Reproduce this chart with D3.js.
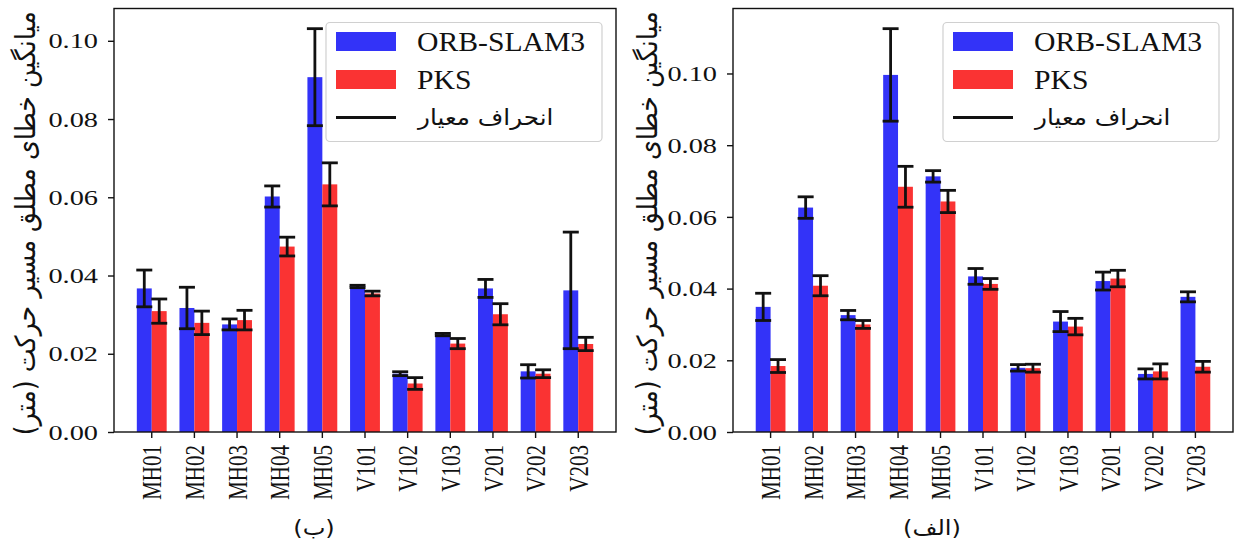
<!DOCTYPE html>
<html>
<head>
<meta charset="utf-8">
<script src="https://cdn.jsdelivr.net/npm/d3@7/dist/d3.min.js"></script>
<style>
  html, body { margin: 0; padding: 0; background: #fff; }
  svg { display: block; }
</style>
</head>
<body>
<svg id="chart" width="1234" height="546"></svg>
<script>
// EuRoC sequences
const categories = ["MH01", "MH02", "MH03", "MH04", "MH05", "V101", "V102", "V103", "V201", "V202", "V203"];

// Panel (ب): mean absolute trajectory error (m) and its standard deviation
const orbB    = [0.0367, 0.0317, 0.0275, 0.0602, 0.0907, 0.0372, 0.0149, 0.0249, 0.0367, 0.0155, 0.0362];
const orbBStd = [0.0047, 0.0053, 0.0014, 0.0027, 0.0124, 0.0003, 0.0005, 0.0003, 0.0023, 0.0017, 0.0149];
const pksB    = [0.0309, 0.0279, 0.0286, 0.0474, 0.0633, 0.0354, 0.0124, 0.0226, 0.0301, 0.0149, 0.0225];
const pksBStd = [0.0031, 0.0030, 0.0025, 0.0024, 0.0055, 0.0006, 0.0015, 0.0013, 0.0027, 0.0010, 0.0017];

// Panel (الف)
const orbA    = [0.0349, 0.0626, 0.0326, 0.0996, 0.0713, 0.0434, 0.0179, 0.0308, 0.0421, 0.0162, 0.0377];
const orbAStd = [0.0038, 0.0030, 0.0013, 0.0129, 0.0016, 0.0022, 0.0009, 0.0028, 0.0025, 0.0014, 0.0014];
const pksA    = [0.0184, 0.0408, 0.0300, 0.0684, 0.0643, 0.0413, 0.0178, 0.0294, 0.0428, 0.0169, 0.0182];
const pksAStd = [0.0018, 0.0028, 0.0011, 0.0057, 0.0031, 0.0015, 0.0011, 0.0023, 0.0023, 0.0021, 0.0015];

const yTicks = [0, 0.02, 0.04, 0.06, 0.08, 0.10];
const seriesNames = ["ORB-SLAM3", "PKS"];
const stdLabel = "انحراف معیار";
const yLabel = "میانگین خطای مطلق مسیر حرکت (متر)";
const captions = ["(ب)", "(الف)"];

const RLM = "\u200F";
const BLUE = "rgb(51,51,248)";
const RED = "rgb(250,51,51)";
const INK = "#111";
const SERIF = "'Liberation Serif', 'Times New Roman', serif";
const ARABIC = "'DejaVu Sans', sans-serif";
const WIDE = 1.35;   // the figure's lettering is set wide

const svg = d3.select("#chart");

const panels = [
  { left: 114, right: 616, caption: captions[0], orb: orbB, orbStd: orbBStd, pks: pksB, pksStd: pksBStd, labelX: 25 },
  { left: 733, right: 1233, caption: captions[1], orb: orbA, orbStd: orbAStd, pks: pksA, pksStd: pksAStd, labelX: 647 }
];
const plotTop = 8.5, plotBottom = 432;

panels.forEach(p => {
  const g = svg.append("g");

  const x = d3.scaleBand()
    .domain(categories)
    .range([p.left, p.right])
    .paddingInner(0)
    .paddingOuter(0.385);
  const step = x.step();
  const bw = step * 0.35;

  const yMax = d3.max([
    d3.max(p.orb, (v, i) => v + p.orbStd[i]),
    d3.max(p.pks, (v, i) => v + p.pksStd[i])
  ]) * 1.05;
  const y = d3.scaleLinear().domain([0, yMax]).range([plotBottom, plotTop]);

  const series = [
    { vals: p.orb, std: p.orbStd, color: BLUE, off: -bw },
    { vals: p.pks, std: p.pksStd, color: RED, off: 0 }
  ];

  series.forEach(s => {
    g.append("g").selectAll("rect")
      .data(categories)
      .join("rect")
      .attr("x", (c) => x(c) + step / 2 + s.off)
      .attr("width", bw)
      .attr("y", (c, i) => y(s.vals[i]))
      .attr("height", (c, i) => y(0) - y(s.vals[i]))
      .attr("fill", s.color);
  });

  // error bars
  series.forEach(s => {
    const eg = g.append("g").attr("stroke", INK).attr("stroke-width", 2.8).attr("fill", "none");
    categories.forEach((c, i) => {
      const cx = x(c) + step / 2 + s.off + bw / 2;
      const hi = y(s.vals[i] + s.std[i]);
      const lo = y(s.vals[i] - s.std[i]);
      const cap = 8;
      eg.append("line").attr("x1", cx).attr("x2", cx).attr("y1", hi).attr("y2", lo);
      eg.append("line").attr("x1", cx - cap).attr("x2", cx + cap).attr("y1", hi).attr("y2", hi);
      eg.append("line").attr("x1", cx - cap).attr("x2", cx + cap).attr("y1", lo).attr("y2", lo);
    });
  });

  // axes
  const yAxis = g.append("g")
    .attr("transform", `translate(${p.left},0)`)
    .call(d3.axisLeft(y).tickValues(yTicks).tickFormat(d3.format(".2f")).tickSize(6));
  const xAxis = g.append("g")
    .attr("transform", `translate(0,${plotBottom})`)
    .call(d3.axisBottom(x).tickSize(6));

  [yAxis, xAxis].forEach(a => {
    a.select(".domain").remove();
    a.selectAll(".tick line").attr("stroke", INK).attr("stroke-width", 1.4);
    a.selectAll(".tick text").attr("fill", INK).style("font-family", SERIF).style("font-size", "21px");
  });
  yAxis.selectAll(".tick text")
    .attr("x", 0)
    .attr("dy", "0.34em")
    .attr("transform", `translate(-16,0) scale(${WIDE},1)`);
  xAxis.selectAll(".tick text")
    .attr("x", 0).attr("y", 0)
    .attr("text-anchor", "end")
    .attr("dy", "0.34em")
    .attr("transform", `translate(0,13) scale(${WIDE},1) rotate(-90)`);

  // frame
  g.append("rect")
    .attr("x", p.left).attr("y", plotTop)
    .attr("width", p.right - p.left).attr("height", plotBottom - plotTop)
    .attr("fill", "none").attr("stroke", INK).attr("stroke-width", 1.4);

  // y label
  const yl = g.append("text")
    .attr("transform", `translate(${p.labelX},${(plotTop + plotBottom) / 2 + 3}) scale(1.1,1) rotate(-90)`)
    .attr("text-anchor", "middle")
    .attr("dy", "0.35em")
    .style("font-family", ARABIC)
    .style("font-size", "20px")
    .attr("fill", INK)
    .text(RLM + yLabel + RLM);
  const len = yl.node().getComputedTextLength();
  if (len > 0) yl.style("font-size", (20 * 424 / len) + "px");

  // legend
  const lx = p.right - 290, ly = plotTop + 14, lw = 276, lh = 119;
  const lg = g.append("g");
  lg.append("rect")
    .attr("x", lx).attr("y", ly).attr("width", lw).attr("height", lh)
    .attr("rx", 4).attr("fill", "rgba(255,255,255,0.85)")
    .attr("stroke", "#d0d0d0").attr("stroke-width", 1.2);
  const entries = [
    { type: "patch", color: BLUE, label: seriesNames[0], cy: ly + 19 },
    { type: "patch", color: RED, label: seriesNames[1], cy: ly + 57 },
    { type: "line", color: INK, label: stdLabel, cy: ly + 95 }
  ];
  entries.forEach(e => {
    if (e.type === "patch") {
      lg.append("rect").attr("x", lx + 10).attr("y", e.cy - 9.5).attr("width", 60).attr("height", 19).attr("fill", e.color);
    } else {
      lg.append("line").attr("x1", lx + 10).attr("x2", lx + 70).attr("y1", e.cy).attr("y2", e.cy)
        .attr("stroke", e.color).attr("stroke-width", 2.8);
    }
    const isArabic = e.type === "line";
    const tx = lx + 91;
    const t = lg.append("text")
      .attr("x", 0).attr("y", 0)
      .attr("dy", "0.35em")
      .attr("fill", INK)
      .style("font-family", isArabic ? ARABIC : SERIF)
      .style("font-size", isArabic ? "22px" : "28px")
      .text(isArabic ? RLM + e.label + RLM : e.label);
    const sx = isArabic ? 1.12 : 1.06;
    const bb = t.node().getBBox();
    t.attr("transform", `translate(${tx - bb.x * sx},${e.cy}) scale(${sx},1)`);
  });

  // caption
  g.append("text")
    .attr("x", 0).attr("y", 0)
    .attr("transform", `translate(${(p.left + p.right) / 2 - 51},535) scale(1.15,1)`)
    .attr("text-anchor", "middle")
    .attr("fill", INK)
    .style("font-family", ARABIC)
    .style("font-size", "21px")
    .text(RLM + p.caption + RLM);
});
</script>
</body>
</html>
